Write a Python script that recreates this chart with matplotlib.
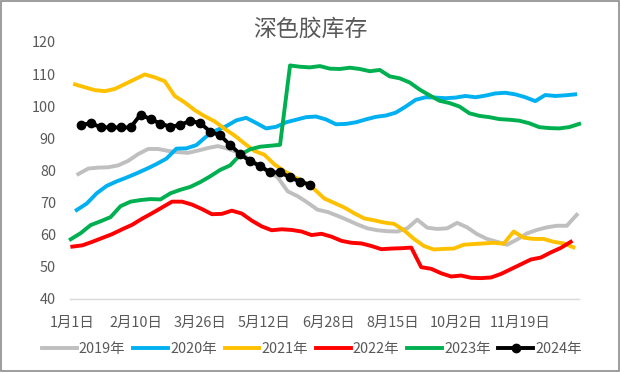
import numpy as np
import matplotlib.pyplot as plt
from matplotlib.patches import Rectangle

plt.rcParams['font.family'] = ['Noto Sans CJK SC', 'DejaVu Sans']

title = '深色胶库存'
years = ['2019年', '2020年', '2021年', '2022年', '2023年', '2024年']
colors = ['#BFBFBF', '#00B0F0', '#FFC000', '#FF0000', '#00B050', '#000000']
x_labels = ['1月1日', '2月10日', '3月26日', '5月12日', '6月28日', '8月15日', '10月2日', '11月19日']

# weekly values, each year starts at a slightly different week on the shared axis
starts = [1.835, 1.675, 1.504, 1.234, 1.073, 2.076]

v2019 = [78.9, 80.6, 80.9, 81.0, 81.6, 83.0, 85.1, 86.7, 86.7, 86.1,
         85.7, 85.5, 86.2, 87.0, 87.6, 86.8, 85.6, 84.0, 81.9, 79.7,
         77.9, 73.5, 72.0, 70.0, 67.8, 67.1, 65.9, 64.6, 63.2, 62.0,
         61.4, 61.1, 61.0, 62.0, 64.7, 62.2, 61.8, 62.0, 63.7, 62.3,
         60.2, 58.7, 57.8, 56.9, 58.5, 60.4, 61.5, 62.3, 62.8, 62.8,
         66.2]
v2020 = [67.7, 69.7, 72.9, 75.2, 76.6, 77.8, 79.1, 80.5, 82.0, 83.7,
         86.8, 86.9, 87.9, 90.6, 92.5, 93.8, 95.6, 96.4, 94.8, 93.1,
         93.6, 95.0, 95.8, 96.6, 96.8, 95.9, 94.4, 94.5, 95.0, 95.9,
         96.7, 97.1, 98.0, 99.9, 102.0, 102.8, 102.7, 102.5, 102.7, 103.2,
         102.8, 103.3, 104.0, 104.2, 103.7, 102.8, 101.6, 103.5, 103.2, 103.4,
         103.7]
v2021 = [106.8, 105.9, 105.0, 104.7, 105.4, 106.9, 108.4, 109.9, 109.0, 107.8,
         103.2, 101.2, 98.8, 96.9, 95.3, 93.0, 90.9, 88.4, 86.1, 84.9,
         81.9, 79.8, 78.0, 76.3, 74.2, 71.3, 69.9, 68.5, 66.7, 65.1,
         64.5, 63.8, 63.4, 61.4, 58.7, 56.5, 55.4, 55.6, 55.7, 56.9,
         57.1, 57.3, 57.5, 57.2, 61.0, 59.1, 58.7, 58.7, 57.8, 57.3,
         56.1]
v2022 = [56.3, 56.7, 57.8, 59.0, 60.2, 61.7, 63.1, 65.0, 66.7, 68.5,
         70.3, 70.3, 69.4, 68.0, 66.4, 66.5, 67.5, 66.6, 64.4, 62.6,
         61.4, 61.7, 61.5, 61.0, 59.9, 60.3, 59.4, 58.1, 57.5, 57.3,
         56.5, 55.5, 55.7, 55.8, 56.0, 49.9, 49.4, 48.0, 47.0, 47.3,
         46.6, 46.5, 46.7, 47.8, 49.3, 50.8, 52.3, 52.9, 54.5, 55.9,
         57.8]
v2023 = [58.6, 60.5, 63.0, 64.2, 65.5, 68.9, 70.3, 70.8, 71.1, 71.0,
         72.9, 74.0, 74.9, 76.4, 78.2, 80.2, 81.6, 84.9, 86.6, 87.4,
         87.7, 88.0, 112.7, 112.3, 112.1, 112.5, 111.7, 111.6, 112.0, 111.6,
         110.9, 111.3, 109.3, 108.7, 107.4, 105.2, 103.4, 101.7, 101.0, 99.9,
         97.8, 97.0, 96.6, 96.0, 95.8, 95.5, 94.7, 93.5, 93.2, 93.1,
         93.5, 94.5]
v2024 = [94.2, 94.7, 93.5, 93.4, 93.4, 93.4, 97.4, 96.0, 94.6, 93.6,
         94.2, 95.5, 94.7, 92.1, 90.9, 87.9, 85.1, 82.9, 81.4, 79.4,
         79.4, 77.9, 76.5, 75.6]
series = [v2019, v2020, v2021, v2022, v2023, v2024]

text_color = '#595959'

fig = plt.figure(figsize=(6.2, 3.73), dpi=100)
ax = fig.add_axes([0.1137, 0.1984, 0.8208, 0.6890])

for name, col, st, vals in zip(years, colors, starts, series):
    x = st + np.arange(len(vals))
    if name == '2024年':
        ax.plot(x, vals, color=col, lw=2.8, marker='o', markersize=6,
                label=name, clip_on=False, solid_joinstyle='round')
    else:
        ax.plot(x, vals, color=col, lw=2.8, label=name, clip_on=False,
                solid_joinstyle='round')

ax.set_xlim(1.05, 52.1)
ax.set_ylim(40, 120)
ax.set_yticks(np.arange(40, 121, 10))
ax.set_xticks(1.18 + 6.43 * np.arange(len(x_labels)))
ax.set_xticklabels(x_labels)

for s in ['top', 'right', 'left']:
    ax.spines[s].set_visible(False)
ax.spines['bottom'].set_color('#D9D9D9')
ax.spines['bottom'].set_linewidth(1)
ax.tick_params(axis='both', length=0, labelsize=10.4, labelcolor=text_color)
ax.tick_params(axis='y', pad=10.5)
ax.tick_params(axis='x', pad=12.5)

fig.text(0.5, 1 - 29 / 373, title, ha='center', va='center',
         fontsize=16.5, color=text_color)

leg = fig.legend(ncol=6, loc='center', bbox_to_anchor=(0.503, 1 - 349 / 373),
                 frameon=False, fontsize=10.4, handlelength=2.4,
                 handletextpad=0.15, columnspacing=0.55)
for t in leg.get_texts():
    t.set_color(text_color)

fig.patches.append(Rectangle((0.5 / 620, 2 / 373), 1 - 2 / 620, 1 - 2.5 / 373,
                             transform=fig.transFigure, fill=False,
                             edgecolor='#8C8C8C', lw=1.2))

fig.savefig('out.png', dpi=100)
